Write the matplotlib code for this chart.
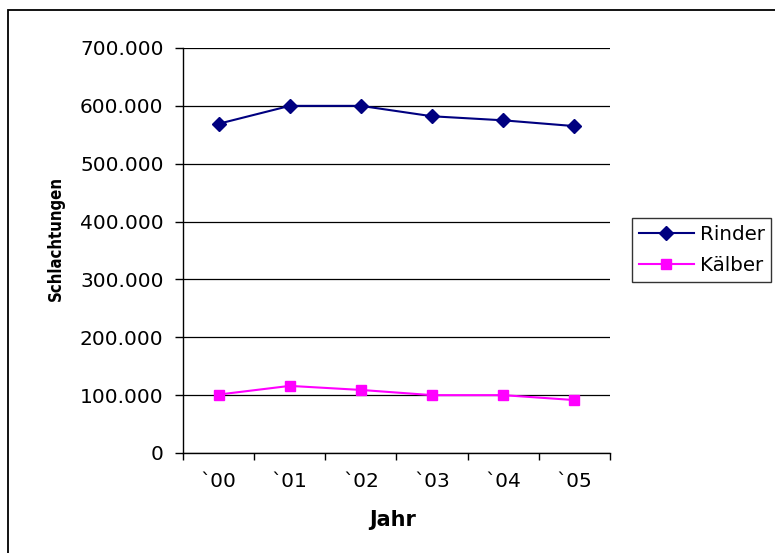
import matplotlib
matplotlib.use("Agg")
import matplotlib.pyplot as plt
from matplotlib.patches import Rectangle
from matplotlib.ticker import FuncFormatter, FixedLocator, NullFormatter

categories = ["`00", "`01", "`02", "`03", "`04", "`05"]
rinder = [569000, 600000, 600000, 582000, 575000, 565000]
kaelber = [101000, 116000, 109000, 100000, 100000, 91500]
y_ticks = [0, 100000, 200000, 300000, 400000, 500000, 600000, 700000]

W, H = 775, 553
fig = plt.figure(figsize=(W / 100, H / 100), dpi=100)
fig.patch.set_facecolor("white")

# outer chart-area frame (cut off at right / bottom)
fig.add_artist(Rectangle((8 / W, -0.05), 1.2, 1 - 10 / H + 0.05,
                         transform=fig.transFigure, fill=False,
                         edgecolor="black", linewidth=1.3))

ax = fig.add_axes([183 / W, 1 - 453 / H, (610 - 183) / W, (453 - 48) / H])
x = list(range(len(categories)))
ax.plot(x, rinder, color="#000080", lw=1.5, marker="D", ms=6.8,
        markeredgecolor="#000080", label="Rinder", zorder=3, clip_on=False)
ax.plot(x, kaelber, color="#FF00FF", lw=1.5, marker="s", ms=7.5,
        markeredgecolor="#FF00FF", label="Kälber", zorder=3, clip_on=False)

ax.set_xlim(-0.5, len(categories) - 0.5)
ax.set_ylim(0, 700000)
ax.yaxis.set_major_locator(FixedLocator(y_ticks))
ax.yaxis.set_major_formatter(FuncFormatter(
    lambda v, p: "0" if v == 0 else f"{int(v):,}".replace(",", ".")))
ax.grid(axis="y", color="black", lw=0.9)
ax.set_axisbelow(True)

# x ticks between categories, labels centred on categories
ax.xaxis.set_major_locator(FixedLocator([i - 0.5 for i in range(len(categories) + 1)]))
ax.xaxis.set_major_formatter(NullFormatter())
ax.xaxis.set_minor_locator(FixedLocator(x))
ax.set_xticklabels(categories, minor=True)
ax.tick_params(axis="x", which="major", direction="out", length=5, width=1, color="black")
ax.tick_params(axis="x", which="minor", length=0, pad=14, labelsize=14.5)
ax.tick_params(axis="y", direction="out", length=6, width=1, pad=8, labelsize=14.5)

for s in ["top", "right"]:
    ax.spines[s].set_visible(False)
for s in ["left", "bottom"]:
    ax.spines[s].set_color("black")
    ax.spines[s].set_linewidth(1)

fig.text(56 / W, 1 - 238 / H, "Schlachtungen", rotation=90, ha="center", va="center",
         fontsize=12, fontweight="bold", fontstretch="condensed")
fig.text(393 / W, 1 - 520 / H, "Jahr", ha="center", va="center",
         fontsize=15, fontweight="bold")

leg = ax.legend(loc="center left", bbox_to_anchor=(632 / W, 1 - 250 / H),
                bbox_transform=fig.transFigure, fontsize=14.3, frameon=True,
                fancybox=False, shadow=False, handlelength=2.75, handletextpad=0.3,
                borderpad=0.35, labelspacing=0.6, borderaxespad=0)
leg.get_frame().set_edgecolor("black")
leg.get_frame().set_linewidth(1)

fig.savefig("out.png", dpi=100, facecolor="white")
